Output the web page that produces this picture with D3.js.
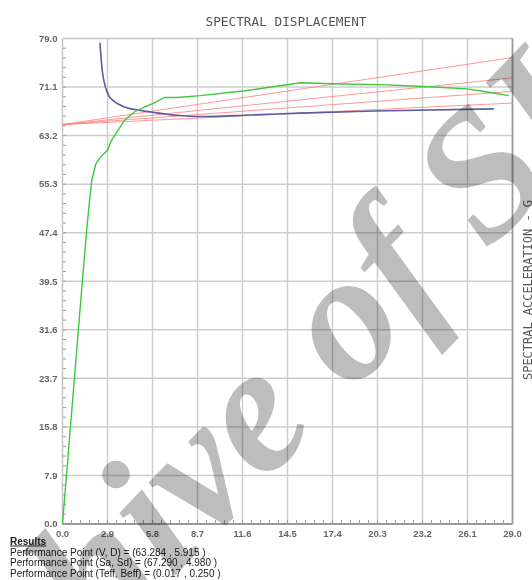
<!DOCTYPE html>
<html>
<head>
<meta charset="utf-8">
<script src="https://cdn.jsdelivr.net/npm/d3@7"></script>
<style>
  html, body { margin: 0; padding: 0; background: #fff; }
  svg { display: block; background: #fff; }
</style>
</head>
<body>
<div id="chart"></div>
<script>
// ---------- data ----------
const chartTitle = "SPECTRAL DISPLACEMENT";
const sideTitle = "SPECTRAL ACCELERATION - G";
const xTicks = [0.0, 2.9, 5.8, 8.7, 11.6, 14.5, 17.4, 20.3, 23.2, 26.1, 29.0];
const yTicks = [0.0, 7.9, 15.8, 23.7, 31.6, 39.5, 47.4, 55.3, 63.2, 71.1, 79.0];

// capacity curve (green): [x, y]
const capacityX = [0, 1.25, 1.60, 1.88, 2.15, 2.45, 2.90, 3.15, 4.00, 4.60, 5.24, 5.88, 6.60, 7.39, 8.89, 11.75, 15.34, 17.92, 20.49, 23.28, 26.08, 27.37, 28.76];
const capacityY = [0, 38.6, 49.0, 55.9, 58.6, 59.7, 60.8, 62.4, 65.7, 67.0, 67.8, 68.5, 69.4, 69.4, 69.7, 70.5, 71.8, 71.6, 71.5, 71.2, 70.8, 70.3, 69.7];

// demand curve (blue)
const demandX = [2.41, 2.56, 2.77, 2.98, 3.42, 3.95, 5.03, 6.10, 7.39, 8.89, 12.1, 15.3, 20.06, 27.8];
const demandY = [78.3, 73.8, 71.1, 69.7, 68.6, 67.9, 67.3, 66.9, 66.5, 66.3, 66.55, 66.85, 67.2, 67.55];

// radial lines (red): common start value at x=0, end values at x=29
const radialStartY = 65.0;
const radialEndY = [75.9, 72.6, 70.4, 68.5];

const resultsHeader = "Results";
const resultsLines = [
  "Performance Point (V, D) = (63.284 , 5.915 )",
  "Performance Point (Sa, Sd) = (67.290 , 4.980 )",
  "Performance Point (Teff, Beff) = (0.017 , 0.250 )"
];
const watermark = "Archive of SID";

// ---------- layout ----------
const W = 532, H = 580;
const m = { left: 62.5, right: 512.5, top: 38.5, bottom: 524 };

const svg = d3.select("#chart").append("svg")
  .attr("width", W).attr("height", H);

const x = d3.scaleLinear().domain([0, 29]).range([m.left, m.right]);
const y = d3.scaleLinear().domain([0, 79]).range([m.bottom, m.top]);

// minor ticks values
const xMinor = d3.range(0, 50).map(i => +(i * 0.58).toFixed(2)).filter(v => v > 0 && v < 29);
const yMinor = d3.range(0, 50).map(i => +(i * 1.58).toFixed(2)).filter(v => v > 0 && v < 79);

// gridlines
const grid = svg.append("g");
grid.selectAll("line.gx").data(xTicks.slice(1, -1)).join("line")
  .attr("x1", d => x(d)).attr("x2", d => x(d))
  .attr("y1", m.top).attr("y2", m.bottom)
  .attr("stroke", "#cdcdcd").attr("stroke-width", 1.5);
grid.selectAll("line.gy").data(yTicks.slice(1, -1)).join("line")
  .attr("y1", d => y(d)).attr("y2", d => y(d))
  .attr("x1", m.left).attr("x2", m.right)
  .attr("stroke", "#cdcdcd").attr("stroke-width", 1.5);

// minor ticks
grid.selectAll("line.mx").data(xMinor).join("line")
  .attr("x1", d => x(d)).attr("x2", d => x(d))
  .attr("y1", m.bottom).attr("y2", m.bottom - 4)
  .attr("stroke", "#9a9a9a").attr("stroke-width", 1);
grid.selectAll("line.my").data(yMinor).join("line")
  .attr("y1", d => y(d)).attr("y2", d => y(d))
  .attr("x1", m.left).attr("x2", m.left + 3.5)
  .attr("stroke", "#9a9a9a").attr("stroke-width", 1);

// frame
svg.append("line").attr("x1", m.left).attr("x2", m.right).attr("y1", m.top).attr("y2", m.top)
  .attr("stroke", "#c4c4c4").attr("stroke-width", 1.5);
svg.append("line").attr("x1", m.left).attr("x2", m.left).attr("y1", m.top).attr("y2", m.bottom)
  .attr("stroke", "#c4c4c4").attr("stroke-width", 1.5);
svg.append("line").attr("x1", m.right).attr("x2", m.right).attr("y1", m.top).attr("y2", m.bottom)
  .attr("stroke", "#9a9a9a").attr("stroke-width", 1.8);
svg.append("line").attr("x1", m.left).attr("x2", m.right).attr("y1", m.bottom).attr("y2", m.bottom)
  .attr("stroke", "#9a9a9a").attr("stroke-width", 1.8);

// tick labels
svg.append("g").selectAll("text").data(yTicks).join("text")
  .attr("x", 57.5).attr("y", d => y(d)).attr("dy", "0.35em")
  .attr("text-anchor", "end")
  .attr("font-family", "Liberation Sans, Arial, sans-serif")
  .attr("font-size", 9.5).attr("font-weight", "bold").attr("fill", "#666")
  .text(d => d3.format(".1f")(d));
svg.append("g").selectAll("text").data(xTicks).join("text")
  .attr("x", d => x(d)).attr("y", 536.5)
  .attr("text-anchor", "middle")
  .attr("font-family", "Liberation Sans, Arial, sans-serif")
  .attr("font-size", 9.5).attr("font-weight", "bold").attr("fill", "#666")
  .text(d => d3.format(".1f")(d));

// titles
svg.append("text").attr("x", 286).attr("y", 26)
  .attr("text-anchor", "middle")
  .attr("font-family", "DejaVu Sans Mono, monospace").attr("font-size", 12.5)
  .attr("fill", "#555")
  .attr("textLength", 161).attr("lengthAdjust", "spacingAndGlyphs")
  .text(chartTitle);
svg.append("text").attr("transform", "translate(531.5,290) rotate(-90)")
  .attr("text-anchor", "middle")
  .attr("font-family", "DejaVu Sans Mono, monospace").attr("font-size", 12.5)
  .attr("fill", "#555")
  .attr("textLength", 180).attr("lengthAdjust", "spacingAndGlyphs")
  .text(sideTitle);

// curves
const line = d3.line().x(d => x(d[0])).y(d => y(d[1]));
const radial = svg.append("g");
radialEndY.forEach(v => {
  radial.append("path").datum([[0, radialStartY], [29, v]])
    .attr("d", line).attr("fill", "none")
    .attr("stroke", "#ff7d7d").attr("stroke-opacity", 0.8).attr("stroke-width", 1);
});
svg.append("path").datum(demandX.map((d, i) => [d, demandY[i]]))
  .attr("d", d3.line().x(d => x(d[0])).y(d => y(d[1])).curve(d3.curveMonotoneX)).attr("fill", "none")
  .attr("stroke", "#5c5ca0").attr("stroke-width", 1.6);
svg.append("path").datum(capacityX.map((d, i) => [d, capacityY[i]]))
  .attr("d", line).attr("fill", "none")
  .attr("stroke", "#3cc93c").attr("stroke-width", 1.4);

// results text
const res = svg.append("g")
  .attr("font-family", "Liberation Sans, Arial, sans-serif").attr("font-size", 10).attr("fill", "#222");
res.append("text").attr("x", 10).attr("y", 544.5).attr("font-weight", "bold")
  .attr("text-decoration", "underline").text(resultsHeader);
res.selectAll("text.l").data(resultsLines).join("text")
  .attr("x", 10).attr("y", (d, i) => 555.5 + i * 10.5).text(d => d);

// watermark (multiplied over the chart, like a stamped overlay)
svg.append("text").attr("transform", "translate(-88,848) rotate(-46)")
  .attr("font-family", "Liberation Serif, Times New Roman, serif")
  .attr("font-style", "italic").attr("font-weight", "bold")
  .attr("font-size", 182).attr("fill", "#bdbdbd")
  .style("mix-blend-mode", "multiply")
  .text(watermark);
</script>
</body>
</html>
